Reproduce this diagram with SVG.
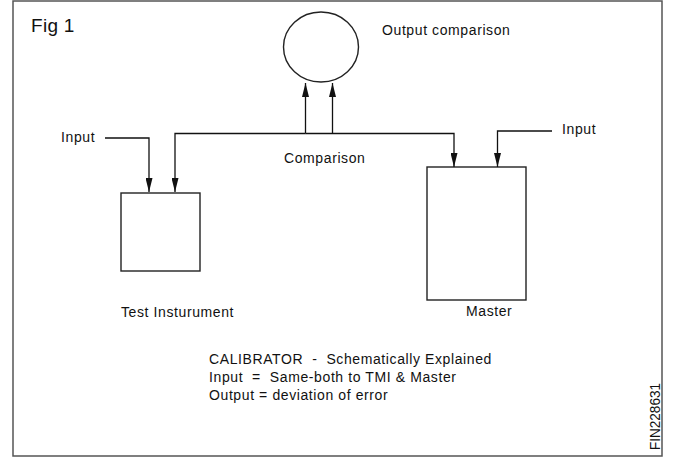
<svg xmlns="http://www.w3.org/2000/svg" width="677" height="459" viewBox="0 0 677 459">
<style>
text{font-family:"Liberation Sans",Arial,sans-serif;font-size:14px;fill:#111;letter-spacing:0.6px;white-space:pre}
.ln{fill:none;stroke:#111;stroke-width:1.3}
.bx{fill:#fff;stroke:#222;stroke-width:1.4}
</style>
<defs>
<marker id="ah" viewBox="0 0 14 7" refX="14" refY="3.5" markerWidth="14" markerHeight="7" markerUnits="userSpaceOnUse" orient="auto">
<path d="M0,0 L14,3.5 L0,7 Z" fill="#111"/>
</marker>
</defs>
<rect x="13" y="1" width="649" height="455" fill="#fff" stroke="#555" stroke-width="1.5"/>
<text x="31" y="32" style="font-size:19px;letter-spacing:0.3px">Fig 1</text>
<g id="output">
<ellipse cx="321" cy="47" rx="37.5" ry="35" class="bx"/>
<text x="382" y="35">Output comparison</text>
</g>
<g id="test">
<rect x="121" y="193" width="79" height="78" class="bx"/>
<text x="121" y="317">Test Insturument</text>
</g>
<g id="master">
<rect x="427" y="167" width="99" height="133" class="bx"/>
<text x="466" y="316">Master</text>
</g>
<g id="connectors">
<path class="ln" d="M105,138 H149 V192" marker-end="url(#ah)"/>
<path class="ln" d="M305.5,133.5 H175 V192" marker-end="url(#ah)"/>
<path class="ln" d="M305.5,133.5 H454 V167" marker-end="url(#ah)"/>
<path class="ln" d="M305.5,133.5 V83" marker-end="url(#ah)"/>
<path class="ln" d="M332.5,133.5 V83" marker-end="url(#ah)"/>
<path class="ln" d="M552,131 H497.5 V167" marker-end="url(#ah)"/>
</g>
<text x="61" y="142">Input</text>
<text x="562" y="134">Input</text>
<text x="284" y="163">Comparison</text>
<text x="209" y="364" xml:space="preserve">CALIBRATOR  -  Schematically Explained</text>
<text x="209" y="382" xml:space="preserve">Input  =  Same-both to TMI &amp; Master</text>
<text x="209" y="400">Output = deviation of error</text>
<text transform="translate(660,450) rotate(-90)" style="font-size:15px;letter-spacing:0" textLength="67" lengthAdjust="spacingAndGlyphs">FIN228631</text>
</svg>
